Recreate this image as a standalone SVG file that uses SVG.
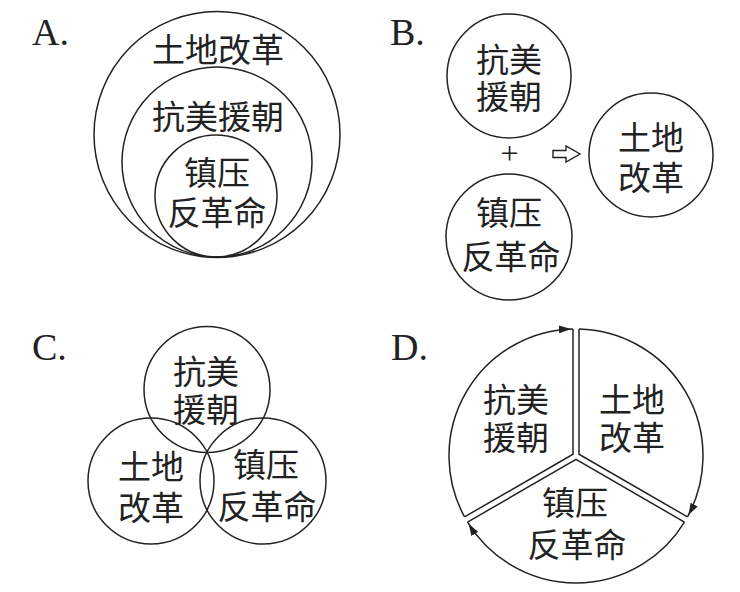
<svg xmlns="http://www.w3.org/2000/svg" width="740" height="592" viewBox="0 0 740 592">
<style>
.c{fill:none;stroke:#222;stroke-width:1.5}
.t{font-family:"Noto Sans CJK SC","Noto Sans CJK JP",sans-serif;font-size:33px;fill:#222;text-anchor:middle}
.lbl{font-family:"Liberation Serif",serif;font-size:38px;fill:#222}
</style>
<defs>
<marker id="ah" markerUnits="userSpaceOnUse" markerWidth="16" markerHeight="8" refX="14" refY="4" orient="auto">
<path d="M0,0 L12,4 L0,8 z" fill="#222"/>
</marker>
</defs>
<rect width="740" height="592" fill="#fff"/>

<!-- Panel A -->
<text class="lbl" x="32" y="45">A.</text>
<g id="a-land"><circle class="c" cx="217" cy="134.5" r="123"/><text class="t" x="218" y="62">土地改革</text></g>
<g id="a-war"><circle class="c" cx="217" cy="162" r="95"/><text class="t" x="218" y="129">抗美援朝</text></g>
<g id="a-supp"><circle class="c" cx="216" cy="196" r="61"/><text class="t" x="217" y="185">镇压</text><text class="t" x="217" y="225">反革命</text></g>

<!-- Panel B -->
<text class="lbl" x="390" y="45">B.</text>
<g id="b-war"><circle class="c" cx="509" cy="76" r="62"/><text class="t" x="509" y="72">抗美</text><text class="t" x="509" y="109">援朝</text></g>
<g id="b-supp"><circle class="c" cx="509" cy="237" r="63"/><text class="t" x="509" y="225">镇压</text><text class="t" x="511" y="269">反革命</text></g>
<g id="b-land"><circle class="c" cx="651" cy="155" r="62"/><text class="t" x="651" y="150">土地</text><text class="t" x="651" y="190">改革</text></g>
<g id="b-connectors">
<text x="509.5" y="164" font-family="Liberation Serif,serif" font-size="32" fill="#222" text-anchor="middle">+</text>
<polygon points="553,150.5 566,150.5 566,146 580,154 566,162 566,157.5 553,157.5" fill="#fff" stroke="#222" stroke-width="1.4" stroke-linejoin="miter"/>
</g>

<!-- Panel C -->
<text class="lbl" x="32" y="360">C.</text>
<g id="c-war"><circle class="c" cx="207" cy="389.5" r="63"/><text class="t" x="206" y="384">抗美</text><text class="t" x="206" y="422">援朝</text></g>
<g id="c-land"><circle class="c" cx="151" cy="481" r="63"/><text class="t" x="151" y="479">土地</text><text class="t" x="151" y="520">改革</text></g>
<g id="c-supp"><circle class="c" cx="263" cy="481" r="63"/><text class="t" x="266" y="477">镇压</text><text class="t" x="267" y="519">反革命</text></g>

<!-- Panel D -->
<text class="lbl" x="391" y="360">D.</text>
<g id="d-war"><path class="c" d="M464.55,516.88 L573,454.27 L573,329.03"/><text class="t" x="516" y="412">抗美</text><text class="t" x="516" y="450">援朝</text></g>
<g id="d-land"><path class="c" d="M579,329.03 L579,454.27 L687.45,516.88"/><text class="t" x="632" y="412">土地</text><text class="t" x="632" y="450">改革</text></g>
<g id="d-supp"><path class="c" d="M684.45,522.08 L576,459.46 L467.55,522.08"/><text class="t" x="575" y="515">镇压</text><text class="t" x="577" y="557">反革命</text></g>
<g id="d-connectors">
<path class="c" d="M464.55,516.88 A127,127 0 0 1 573,329.03" marker-end="url(#ah)"/>
<path class="c" d="M579,329.03 A127,127 0 0 1 687.45,516.88" marker-end="url(#ah)"/>
<path class="c" d="M684.45,522.08 A127,127 0 0 1 467.55,522.08" marker-end="url(#ah)"/>
</g>
</svg>
